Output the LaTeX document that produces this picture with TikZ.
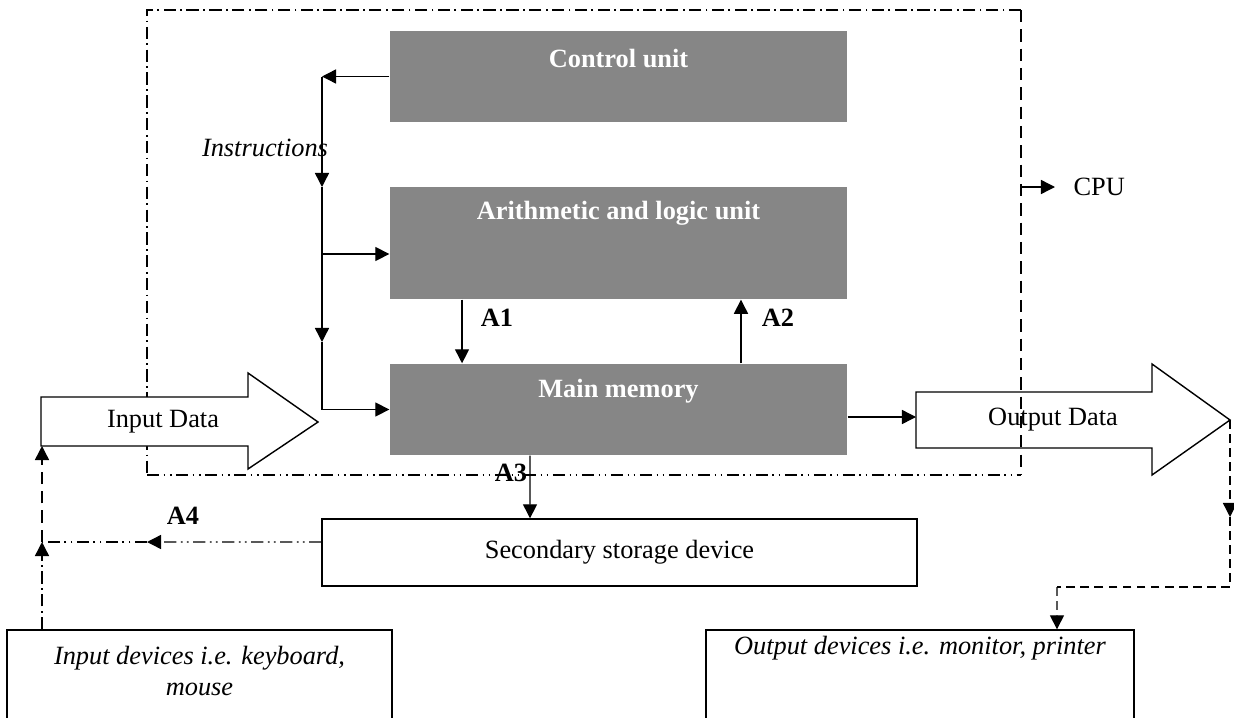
\documentclass[tikz,border=0pt]{standalone}
\usepackage{fontspec}
\setmainfont{Liberation Serif}
\usetikzlibrary{arrows.meta}
\usetikzlibrary{positioning}
\definecolor{unitgray}{RGB}{134,134,134}

\begin{document}
\begin{tikzpicture}[x=0.02cm, y=-0.02cm, line width=0.8pt,
    font=\fontsize{15}{18}\selectfont,
    arr/.style={-{Triangle[length=8pt,width=8pt]}},
    unitbox/.style={fill=unitgray, draw=none, minimum width=9.14cm, inner sep=0pt},
    unittitle/.style={text=white, font=\fontsize{15}{18}\selectfont\bfseries},
    flowlabel/.style={font=\fontsize{15}{18}\selectfont\bfseries},
    devtext/.style={font=\fontsize{15}{18}\selectfont\itshape, align=center},
    plainbox/.style={draw, fill=white, inner sep=0pt},
    dashdot/.style={dash pattern=on 7pt off 2.5pt on 1pt off 2.5pt},
    dashdotdot/.style={dash pattern=on 7pt off 2.5pt on 1pt off 2.5pt on 1pt off 2.5pt},
    longdash/.style={dash pattern=on 7pt off 4pt},
    outflow/.style={dash pattern=on 5pt off 3pt}]

    \useasboundingbox (0,0) rectangle (1234,717);
    \clip (0,0) rectangle (1234,717);

    % CPU boundary
    \draw[dashdot] (1021,10) -- (147,10) -- (147,475);
    \draw[dashdotdot] (147,475) -- (1021,475);
    \draw[longdash] (1021,10) -- (1021,475);
    \coordinate (cpuedge) at (1021,187);
    \node (cpu) [right=0.92cm of cpuedge] {CPU};
    \draw[arr, shorten >=0.24cm] (cpuedge) -- (cpu.west);

    % Units inside the CPU
    \node[unitbox, minimum height=1.82cm] (cu) at (618.5,76.5) {};
    \node[unitbox, minimum height=2.24cm] (alu) at (618.5,243) {};
    \node[unitbox, minimum height=1.82cm] (mm) at (618.5,409.5) {};
    \node[unittitle] (cutitle) at ([yshift=-0.56cm]cu.north) {Control unit};
    \node[unittitle] (alutitle) at ([yshift=-0.54cm]alu.north) {Arithmetic and logic unit};
    \node[unittitle] (mmtitle) at ([yshift=-0.56cm]mm.north) {Main memory};

    % Instructions
    \coordinate (ibus) at (322,76.5);
    \coordinate (idown1) at (322,187);
    \coordinate (ialu) at (322,254);
    \coordinate (idown2) at (322,342);
    \coordinate (imem) at (322,409.5);
    \draw[arr] (cu.west) -- (ibus);
    \draw[arr] (ibus) -- (idown1);
    \draw (idown1) -- (ialu);
    \draw[arr] (ialu) -- (idown2);
    \draw (idown2) -- (imem);
    \draw[arr] (ialu) -- (alu.west |- ialu);
    \draw[arr] (imem) -- (mm.west);
    \node[devtext] (instr) at (265,148) {Instructions};

    % A1 and A2
    \draw[arr] ([xshift=-3.13cm]alu.south) -- ([xshift=-3.13cm]mm.north);
    \node[flowlabel] (a1) at (497,318) {A1};
    \draw[arr] ([xshift=2.45cm]mm.north) -- ([xshift=2.45cm]alu.south);
    \node[flowlabel] (a2) at (778,318) {A2};

    % Secondary storage
    \node[plainbox, minimum width=11.9cm, minimum height=1.34cm] (ss) at (619.5,552.5) {Secondary storage device};
    \draw[arr] ([xshift=-1.77cm]mm.south) -- ([xshift=-1.79cm]ss.north);
    \node[flowlabel] (a3) at (511,473) {A3};

    % Input data
    \draw[fill=white] (41,397) -- (248,397) -- (248,373) -- (318,422) -- (248,469) -- (248,446) -- (41,446) -- cycle;
    \node (indata) at (163,422) {Input Data};
    \coordinate (inbase) at (42,446);

    % Output data
    \draw (916,392) -- (1152,392) -- (1152,364) -- (1230,420) -- (1152,475) -- (1152,448) -- (916,448) -- cycle;
    \node (outdata) at (1053,420) {Output Data};
    \coordinate (outtail) at (916,417);
    \coordinate (outtip) at (1230,420);
    \draw[arr] (mm.east |- outtail) -- (outtail);

    % Devices
    \node[plainbox, minimum width=7.7cm, minimum height=2.6cm] (ind) at (199.5,695) {};
    \node[devtext] (indtext) at (199.5,671) {Input devices i.e. keyboard,\\mouse};
    \node[plainbox, minimum width=8.56cm, minimum height=2.6cm] (outd) at (920,695) {};
    \node[devtext] (outdtext) at (920,648) {Output devices i.e. monitor, printer};

    % A4
    \coordinate (a4tip) at (147,542);
    \coordinate (injoin) at (42,542);
    \draw[dashdotdot, arr] ([yshift=0.21cm]ss.west) -- (a4tip);
    \draw[dashdotdot] (a4tip) -- (injoin);
    \draw[dashdot, arr] (ind.north -| injoin) -- (injoin);
    \draw[longdash, arr] (injoin) -- (inbase);
    \node[flowlabel] (a4) at (183,516) {A4};

    % To output devices
    \coordinate (outdrop) at (1230,517);
    \coordinate (outcorner) at (1230,587);
    \coordinate (outbend) at (1057,587);
    \draw[outflow, arr] (outtip) -- (outdrop);
    \draw[outflow] (outdrop) -- (outcorner) -- (outbend);
    \draw[outflow, arr] (outbend) -- ([xshift=2.74cm]outd.north);

\end{tikzpicture}
\end{document}
